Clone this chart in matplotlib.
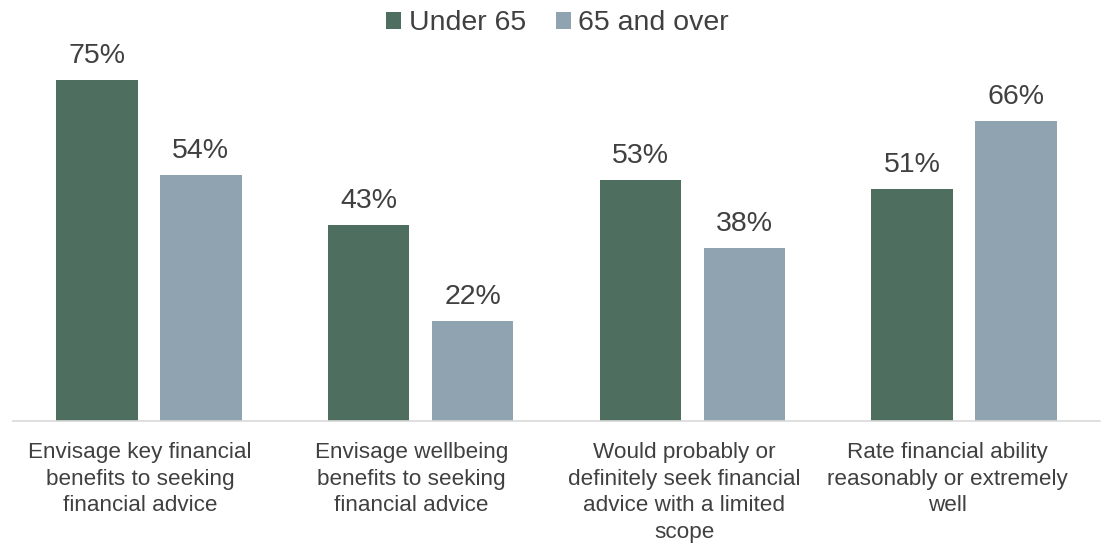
import matplotlib
matplotlib.use("Agg")
import matplotlib.pyplot as plt
from matplotlib.transforms import ScaledTranslation
import numpy as np

plt.rcParams['font.family'] = ['Liberation Sans', 'DejaVu Sans']

# survey results, percent of respondents
categories = [
    "Envisage key financial\nbenefits to seeking\nfinancial advice",
    "Envisage wellbeing\nbenefits to seeking\nfinancial advice",
    "Would probably or\ndefinitely seek financial\nadvice with a limited\nscope",
    "Rate financial ability\nreasonably or extremely\nwell",
]
under65 = [75, 43, 53, 51]
over65 = [54, 22, 38, 66]
series_names = ["Under 65", "65 and over"]

green = "#4E6F60"
grey = "#8FA3B0"
text_col = "#404040"

fig = plt.figure(figsize=(11.06, 5.45), dpi=100)
ax = fig.add_axes([13 / 1106, 124 / 545, 1087 / 1106, 364 / 545])

x = np.arange(len(categories))
w = 0.30
off = 0.191
b1 = ax.bar(x - off, under65, w, color=green, label=series_names[0])
b2 = ax.bar(x + off, over65, w, color=grey, label=series_names[1])

for bars, vals in ((b1, under65), (b2, over65)):
    for bar, v in zip(bars, vals):
        ax.annotate(f"{v}%", (bar.get_x() + bar.get_width() / 2, v),
                    xytext=(0, 8), textcoords="offset points",
                    ha="center", va="bottom", fontsize=20.5, color=text_col)

ax.set_xlim(-0.5, len(categories) - 0.5)
ax.set_ylim(0, 80)
ax.set_yticks([])
ax.set_xticks(x)
ax.set_xticklabels(categories, fontsize=16.2, color=text_col, linespacing=1.36)
ax.tick_params(axis="x", length=0, pad=15)

# nudge the wrapped labels a little left of the bar pairs
shifts = [-9, -9, -8, -17]
for lbl, dx in zip(ax.get_xticklabels(), shifts):
    lbl.set_transform(lbl.get_transform() + ScaledTranslation(dx / 100, 0, fig.dpi_scale_trans))

for s in ("top", "right", "left"):
    ax.spines[s].set_visible(False)
ax.spines["bottom"].set_color("#D9D9D9")
ax.spines["bottom"].set_linewidth(1.2)

leg = fig.legend(loc="upper center", bbox_to_anchor=(0.504, 1.028), ncol=2,
                 frameon=False, fontsize=20.5, handlelength=0.55,
                 handleheight=0.55, handletextpad=0.25, columnspacing=1.05)
for t in leg.get_texts():
    t.set_color(text_col)

fig.savefig("out.png", dpi=100)
